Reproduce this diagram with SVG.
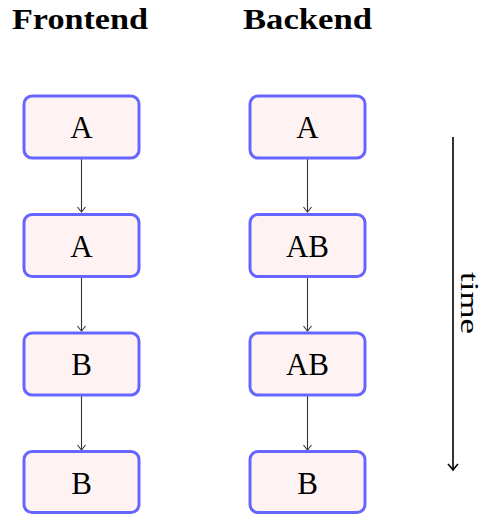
<svg xmlns="http://www.w3.org/2000/svg" width="485" height="514" viewBox="0 0 485 514">
  <defs>
    <style>
      .box { fill: #fff2f2; stroke: #6666ff; stroke-width: 3; }
      .lbl { font-family: "Liberation Serif", "DejaVu Serif", serif; font-size: 31px; fill: #000; text-anchor: middle; }
      .tlbl { font-family: "Liberation Serif", "DejaVu Serif", serif; font-size: 26px; fill: #000; text-anchor: middle; }
      .hdr { font-family: "Liberation Serif", "DejaVu Serif", serif; font-size: 30px; font-weight: bold; fill: #000; }
      .conn { stroke: #333; stroke-width: 1.1; fill: none; }
      .time { stroke: #000; stroke-width: 1.6; fill: none; }
    </style>
    <marker id="arr" viewBox="-6 -5 8 10" refX="0" refY="0" markerWidth="8" markerHeight="10" markerUnits="userSpaceOnUse" orient="auto">
      <path d="M-5,-4 Q-1,-1 0,0 Q-1,1 -5,4" fill="none" stroke="#333" stroke-width="1.1"/>
    </marker>
    <marker id="arrT" viewBox="-8 -7 10 14" refX="0" refY="0" markerWidth="10" markerHeight="14" markerUnits="userSpaceOnUse" orient="auto">
      <path d="M-6,-5 Q-1.5,-1 0,0 Q-1.5,1 -6,5" fill="none" stroke="#000" stroke-width="1.6"/>
    </marker>
  </defs>

  <g id="header-frontend"><text class="hdr" x="12" y="29" textLength="136" lengthAdjust="spacingAndGlyphs">Frontend</text></g>
  <g id="header-backend"><text class="hdr" x="243" y="29" textLength="129" lengthAdjust="spacingAndGlyphs">Backend</text></g>

  <g id="connectors">
    <line class="conn" x1="81.5" y1="158" x2="81.5" y2="212" marker-end="url(#arr)"/>
    <line class="conn" x1="81.5" y1="276.5" x2="81.5" y2="331" marker-end="url(#arr)"/>
    <line class="conn" x1="81.5" y1="395" x2="81.5" y2="450" marker-end="url(#arr)"/>
    <line class="conn" x1="307.5" y1="158" x2="307.5" y2="212" marker-end="url(#arr)"/>
    <line class="conn" x1="307.5" y1="276.5" x2="307.5" y2="331" marker-end="url(#arr)"/>
    <line class="conn" x1="307.5" y1="395" x2="307.5" y2="450" marker-end="url(#arr)"/>
    <line class="time" x1="453" y1="137" x2="453" y2="470" marker-end="url(#arrT)"/>
  </g>

  <g id="f1"><rect class="box" x="24" y="96" width="115" height="62" rx="8"/><text class="lbl" x="81.5" y="138">A</text></g>
  <g id="f2"><rect class="box" x="24" y="214.5" width="115" height="62" rx="8"/><text class="lbl" x="81.5" y="256.5">A</text></g>
  <g id="f3"><rect class="box" x="24" y="333" width="115" height="62" rx="8"/><text class="lbl" x="81.5" y="375">B</text></g>
  <g id="f4"><rect class="box" x="24" y="451.5" width="115" height="61" rx="8"/><text class="lbl" x="81.5" y="493.5">B</text></g>

  <g id="b1"><rect class="box" x="250" y="96" width="115" height="62" rx="8"/><text class="lbl" x="307.5" y="138">A</text></g>
  <g id="b2"><rect class="box" x="250" y="214.5" width="115" height="62" rx="8"/><text class="lbl" x="307.5" y="256.5">AB</text></g>
  <g id="b3"><rect class="box" x="250" y="333" width="115" height="62" rx="8"/><text class="lbl" x="307.5" y="375">AB</text></g>
  <g id="b4"><rect class="box" x="250" y="451.5" width="115" height="61" rx="8"/><text class="lbl" x="307.5" y="493.5">B</text></g>

  <g id="time-label"><text class="tlbl" transform="translate(461,303) rotate(90)" x="0" y="0" textLength="62" lengthAdjust="spacingAndGlyphs">time</text></g>
</svg>
